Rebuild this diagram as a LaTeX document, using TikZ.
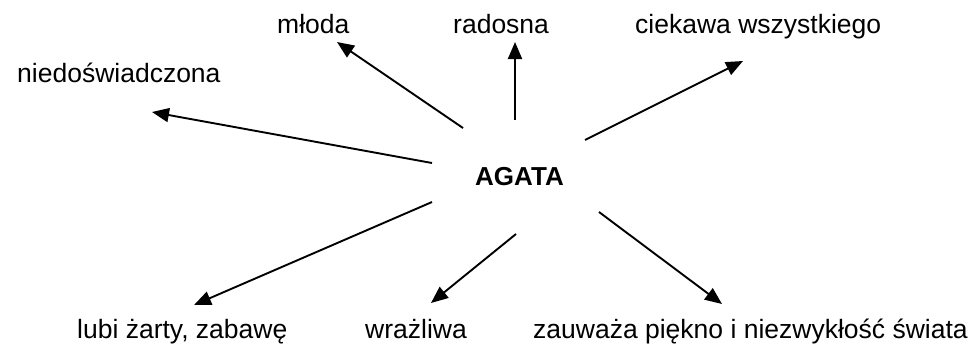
\documentclass[tikz,border=0pt]{standalone}
\usepackage{fontspec}
\setmainfont{Liberation Sans}
\usetikzlibrary{arrows.meta}
\begin{document}
\begin{tikzpicture}[x=1pt,y=-1pt,
  lbl/.style={inner sep=0pt,anchor=base west,font=\fontsize{26.5}{30}\selectfont},
  conn/.style={line width=1.9pt,-{Triangle[length=17pt,width=14pt]}}]
\useasboundingbox (0,0) rectangle (973,346);
\node[lbl,font=\fontsize{26}{30}\selectfont\bfseries] (agata) at (475,185) {AGATA};
\node[lbl] (mloda) at (277,33) {młoda};
\node[lbl] (radosna) at (453,33) {radosna};
\node[lbl] (ciekawa) at (635,33) {ciekawa wszystkiego};
\node[lbl] (niedo) at (17,82) {niedoświadczona};
\node[lbl] (lubi) at (77,338) {lubi żarty, zabawę};
\node[lbl] (wraz) at (365,338) {wrażliwa};
\node[lbl] (zauw) at (533,338) {zauważa piękno i niezwykłość świata};
% start points near AGATA
\coordinate (s1) at (463,128);
\coordinate (s2) at (432,163);
\coordinate (s3) at (515,120);
\coordinate (s4) at (585,140);
\coordinate (s5) at (432,202);
\coordinate (s6) at (516,234);
\coordinate (s7) at (599,212);
% arrow tips
\coordinate (t1) at (337,42);
\coordinate (t2) at (152,112);
\coordinate (t3) at (515,42);
\coordinate (t4) at (743,61);
\coordinate (t5) at (194,305);
\coordinate (t6) at (431,303);
\coordinate (t7) at (722,304);
\draw[conn] (s1) -- (t1);
\draw[conn] (s2) -- (t2);
\draw[conn] (s3) -- (t3);
\draw[conn] (s4) -- (t4);
\draw[conn] (s5) -- (t5);
\draw[conn] (s6) -- (t6);
\draw[conn] (s7) -- (t7);
\end{tikzpicture}
\end{document}
